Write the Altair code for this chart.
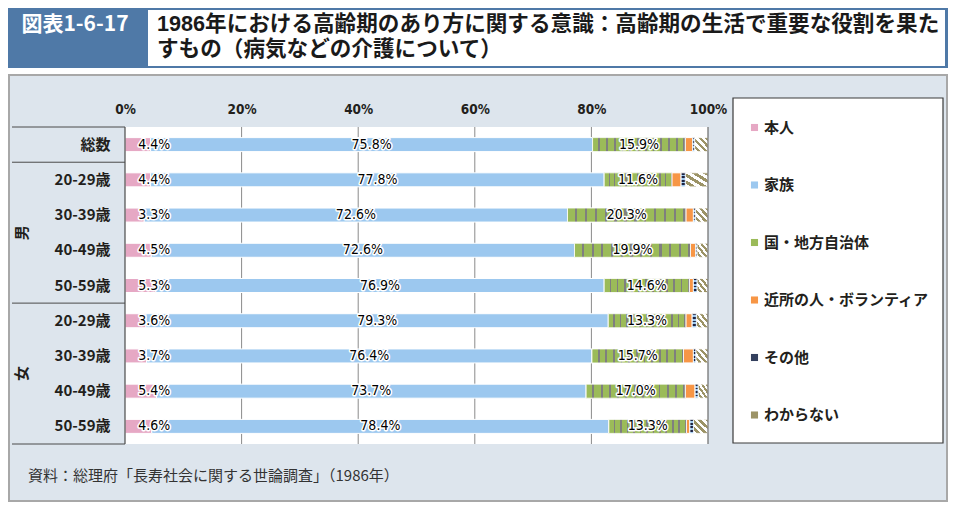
import altair as alt
import pandas as pd

# ---------------- data ----------------
row_keys = ["T総数", "M20-29歳", "M30-39歳", "M40-49歳", "M50-59歳",
            "F20-29歳", "F30-39歳", "F40-49歳", "F50-59歳"]
categories = ["本人", "家族", "国・地方自治体", "近所の人・ボランティア", "その他", "わからない"]
honnin = [4.4, 4.4, 3.3, 4.5, 5.3, 3.6, 3.7, 5.4, 4.6]
kazoku = [75.8, 77.8, 72.6, 72.6, 76.9, 79.3, 76.4, 73.7, 78.4]
kuni = [15.9, 11.6, 20.3, 19.9, 14.6, 13.3, 15.7, 17.0, 13.3]
kinjo = [1.3, 1.6, 1.3, 0.9, 0.7, 1.1, 1.7, 1.7, 0.6]
sonota = [0.3, 0.7, 0.3, 0.2, 0.6, 0.7, 0.4, 0.5, 0.6]
wakaranai = [2.3, 3.9, 2.2, 1.9, 1.9, 2.0, 2.1, 1.7, 2.5]
x_ticks = [0, 20, 40, 60, 80, 100]
grid_vals = [20, 40, 60, 80]
colors = ["#e6a8c4", "#9cc8ef", "#9bbb59", "#f79646", "#34405e", "#9c9366"]

title_tag = "図表1-6-17"
title_l1 = "1986年における高齢期のあり方に関する意識：高齢期の生活で重要な役割を果た"
title_l2 = "すもの（病気などの介護について）"
source = "資料：総理府「長寿社会に関する世論調査」（1986年）"

series = [honnin, kazoku, kuni, kinjo, sonota, wakaranai]
recs = []
for ci, (cat, vals) in enumerate(zip(categories, series)):
    for r, v in zip(row_keys, vals):
        recs.append({"row": r, "cat": cat, "ord": ci, "value": v})
df = pd.DataFrame(recs)

JP = "Noto Sans CJK JP"
TTL = "Liberation Sans, Noto Sans CJK JP"
NUM = "Liberation Sans Narrow, DejaVu Sans Condensed, Liberation Sans, Arial, sans-serif"
W, H = 583, 317

one = alt.Data(values=[{"a": 1}])

def stops_stripes(c1, c2, n, frac):
    s = []
    for i in range(n):
        a = i / n
        b = a + frac / n
        e = (i + 1) / n
        s += [{"offset": a, "color": c1}, {"offset": b, "color": c1},
              {"offset": b, "color": c2}, {"offset": e, "color": c2}]
    return s

kuni_fill = {"gradient": "linear", "x1": 0, "y1": 0, "x2": 1, "y2": 0,
             "stops": stops_stripes("#9bbb59", "#7f7f7f", 12, 0.76)}
waka_fill = {"gradient": "linear", "x1": 0, "y1": 1, "x2": 1, "y2": 0,
             "stops": stops_stripes("#ffffff", "#9c9366", 4, 0.5)}
sono_fill = {"gradient": "linear", "x1": 0, "y1": 0, "x2": 0, "y2": 1,
             "stops": stops_stripes("#1c2444", "#9cc8ef", 4, 0.5)}

y_axis = alt.Axis(title=None, domain=False, ticks=False, labelPadding=15,
                  labelFont=JP, labelFontSize=15, labelFontWeight="bold",
                  labelColor="#231f1c", labelExpr="substring(datum.label, 1)",
                  zindex=1, grid=False)
x_axis = alt.Axis(title=None, orient="top", domain=False, ticks=False, grid=False,
                  values=x_ticks, labelExpr="datum.value + '%'", labelPadding=11,
                  labelFlush=False,
                  labelFont=NUM, labelFontSize=13.5, labelFontWeight="bold",
                  labelColor="#231f1c", zindex=1)
y_scale = alt.Scale(domain=row_keys, paddingInner=0, paddingOuter=0)
x_scale = alt.Scale(domain=[0, 100], nice=False)

def Y(**kw):
    return alt.Y("row:N", sort=row_keys, scale=y_scale, axis=y_axis, **kw)

def X(field):
    return alt.X(field, type="quantitative", scale=x_scale, axis=x_axis)

def rect(x1, x2, y1, y2, **mk):
    return alt.Chart(one).mark_rect(**mk).encode(
        x=alt.value(x1), x2=alt.value(x2), y=alt.value(y1), y2=alt.value(y2))

def label(txt, x, y, **mk):
    return alt.Chart(one).mark_text(text=txt, **mk).encode(x=alt.value(x), y=alt.value(y))

# decorations
header_bg = rect(-117, 823, -119, -59, fill="#4f79a7")
header_box = rect(23, 820, -117, -61, fill="white")
tag_txt = label(title_tag, -50, -102, font=JP, fontSize=21, fontWeight="bold",
                color="white", align="center", baseline="middle")
t1 = label(title_l1, 32, -102, font=TTL, fontSize=21.6, fontWeight="bold",
           color="#1a1a1a", align="left", baseline="middle")
t2 = label(title_l2, 32, -77, font=TTL, fontSize=21.6, fontWeight="bold",
           color="#1a1a1a", align="left", baseline="middle")
frame = rect(-116, 822, -52, 374, fill="#dde5ed", stroke="#a8a8a8", strokeWidth=2)
plot_bg = rect(0, W, 0, H, fill="white")
legend_box = rect(608, 818, -29, 316, fill="white", stroke="#3a3a3a", strokeWidth=1.2)
src_txt = label(source, -97, 349, font=JP, fontSize=15, color="#333333",
                align="left", baseline="middle")

grid = alt.Chart(pd.DataFrame({"g": grid_vals})).mark_rule(color="#8a8a8a", strokeWidth=1).encode(
    x=alt.X("g:Q", scale=x_scale, axis=x_axis), y=alt.value(0), y2=alt.value(H))

base = alt.Chart(df).transform_stack(
    stack="value", groupby=["row"], as_=["x0", "x1"], sort=[alt.SortField("ord")])

bars = base.mark_bar(size=14, stroke="white", strokeWidth=1).encode(
    y=Y(), x=X("x0"), x2="x1:Q",
    color=alt.Color("cat:N", scale=alt.Scale(domain=categories, range=colors),
                    legend=alt.Legend(title=None, orient="none", legendX=622, legendY=-7,
                                      padding=0, rowPadding=41.5, symbolType="square",
                                      symbolSize=50, symbolStrokeWidth=0, labelOffset=2,
                                      labelFont=JP, labelFontSize=15, labelFontWeight="bold",
                                      labelColor="#231f1c", labelLimit=300)),
    order=alt.Order("ord:Q"))

def overlay(cat, fill):
    return base.transform_filter(alt.datum.cat == cat).mark_bar(
        size=14, fill=fill, stroke="white", strokeWidth=0.8).encode(
        y=Y(), x=X("x0"), x2="x1:Q")

ov_kuni = overlay("国・地方自治体", kuni_fill)
ov_waka = overlay("わからない", waka_fill)
ov_sono = overlay("その他", sono_fill)

# separators
edge_l = alt.Chart(pd.DataFrame({"g": [0]})).mark_rule(color="#4a4a4a", strokeWidth=1.2).encode(
    x=alt.X("g:Q", scale=x_scale, axis=x_axis), y=alt.value(0), y2=alt.value(H))
edge_r = alt.Chart(pd.DataFrame({"g": [100]})).mark_rule(color="#6a6a6a", strokeWidth=1.2).encode(
    x=alt.X("g:Q", scale=x_scale, axis=x_axis), y=alt.value(0), y2=alt.value(H))
sep_rows = alt.Chart(pd.DataFrame({"row": ["T総数", "M50-59歳"]})).mark_rule(
    color="#4a4a4a", strokeWidth=1).encode(
    y=Y(bandPosition=1), x=alt.value(-113), x2=alt.value(0))
sep_top = alt.Chart(one).mark_rule(color="#4a4a4a", strokeWidth=1).encode(
    y=alt.value(0), x=alt.value(-113), x2=alt.value(0))
sep_bot = alt.Chart(one).mark_rule(color="#4a4a4a", strokeWidth=1).encode(
    y=alt.value(H), x=alt.value(-113), x2=alt.value(0))

lab_base = base.transform_filter(
    alt.FieldOneOfPredicate(field="cat", oneOf=categories[:3])
).transform_calculate(
    mid="datum.cat == '本人' ? 5.0 : (datum.x0 + datum.x1) / 2",
    txt="format(datum.value, '.1f') + '%'")
halo = lab_base.mark_text(font=NUM, fontSize=14, color="white", stroke="white",
                          strokeWidth=3, strokeJoin="round", baseline="middle").encode(
    y=Y(), x=X("mid"), text="txt:N")
labs = lab_base.mark_text(font=NUM, fontSize=14, color="#000000", baseline="middle").encode(
    y=Y(), x=X("mid"), text="txt:N")

sex = alt.Chart(pd.DataFrame({"row": ["M30-39歳", "F30-39歳"], "t": ["男", "女"]})).mark_text(
    font=JP, fontSize=15, fontWeight="bold", color="#231f1c", angle=270,
    align="center", baseline="middle").encode(
    y=Y(bandPosition=1), x=alt.value(-103), text="t:N")

chart = alt.layer(
    header_bg, header_box, tag_txt, t1, t2, frame, plot_bg, legend_box, grid,
    bars, ov_kuni, ov_waka, ov_sono,
    edge_l, edge_r, sep_rows, sep_top, sep_bot,
    halo, labs, sex, src_txt
).properties(
    width=W, height=H,
    padding={"left": 117, "top": 119, "right": 240, "bottom": 58},
    autosize=alt.AutoSizeParams(type="none"),
    background="white",
).configure_view(stroke="transparent")

chart.save("out.html", embed_options={"renderer": "svg", "actions": False})
